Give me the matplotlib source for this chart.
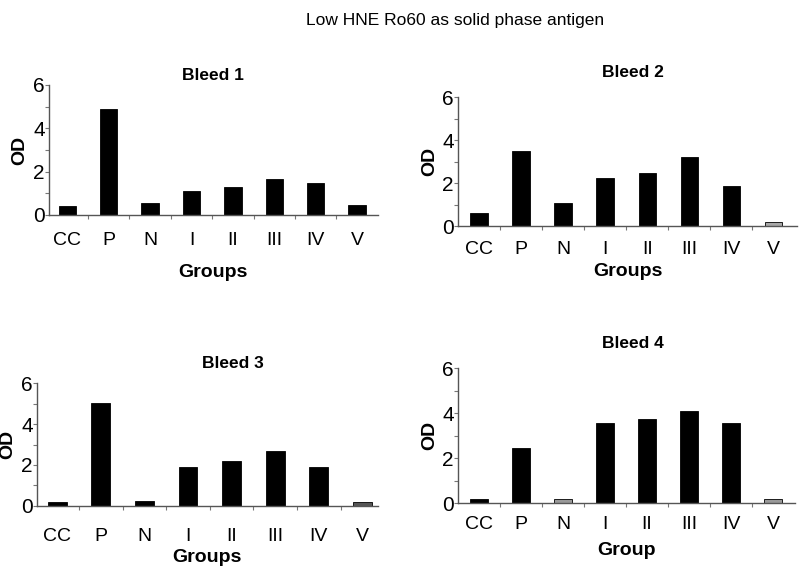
import matplotlib
matplotlib.use("Agg")
import matplotlib.pyplot as plt
import numpy as np

plt.rcParams['font.family'] = ['Liberation Sans', 'DejaVu Sans']

groups = ["CC", "P", "N", "I", "II", "III", "IV", "V"]
titles = ["Bleed 1", "Bleed 2", "Bleed 3", "Bleed 4"]
xlabels = ["Groups", "Groups", "Groups", "Group"]
bleed1 = [0.43, 4.9, 0.55, 1.09, 1.28, 1.68, 1.48, 0.45]
bleed2 = [0.62, 3.48, 1.08, 2.22, 2.49, 3.2, 1.86, 0.18]
bleed3 = [0.2, 5.03, 0.25, 1.9, 2.21, 2.66, 1.9, 0.2]
bleed4 = [0.16, 2.47, 0.16, 3.56, 3.75, 4.09, 3.56, 0.16]
colors1 = ["black"] * 8
colors2 = ["black"] * 7 + ["#a8a8a8"]
colors3 = ["black"] * 7 + ["#555555"]
colors4 = ["black", "black", "#999999", "black", "black", "black", "black", "#999999"]

fig = plt.figure(figsize=(8, 5.71), dpi=100)
fig.text(0.569, 0.978, "Low HNE Ro60 as solid phase antigen", ha="center", va="top", fontsize=12.5)

panels = [
    (bleed1, colors1, [0.061, 0.6235, 0.411, 0.2277], (-0.45, 7.5), 0.42, (213, 75), 12, 11),
    (bleed2, colors2, [0.5725, 0.604, 0.424, 0.226], (-0.5, 7.57), 0.41, (633, 72), 11, 3),
    (bleed3, colors3, [0.046, 0.114, 0.426, 0.215], (-0.47, 7.35), 0.43, (233, 363), 16, 3),
    (bleed4, colors4, [0.5725, 0.119, 0.421, 0.236], (-0.5, 7.52), 0.41, (633, 343), 9, 7),
]

for i, (vals, cols, rect, xl, bw, tpos, xpad, lpad) in enumerate(panels):
    ax = fig.add_axes(rect)
    x = np.arange(len(groups))
    ax.bar(x, vals, width=bw, color=cols, edgecolor="black", linewidth=0.6)
    ax.set_xlim(*xl)
    ax.set_ylim(0, 6)
    for s in ["top", "right"]:
        ax.spines[s].set_visible(False)
    for s in ["left", "bottom"]:
        ax.spines[s].set_color("#555555")
        ax.spines[s].set_linewidth(1.0)
    ax.set_yticks([0, 2, 4, 6])
    ax.set_yticklabels(["0", "2", "4", "6"], fontsize=15)
    ax.set_yticks([1, 3, 5], minor=True)
    ax.tick_params(axis="y", which="both", length=3, width=0.8, color="#777777", pad=0)
    ax.set_xticks(x)
    ax.set_xticklabels(groups, fontsize=14)
    ax.set_xticks(x[:-1] + 0.5, minor=True)
    ax.tick_params(axis="x", which="major", length=0, pad=xpad)
    ax.tick_params(axis="x", which="minor", length=3, width=0.8, color="#777777")
    ax.set_ylabel("OD", fontsize=14, fontweight="bold", labelpad=3)
    ax.set_xlabel(xlabels[i], fontsize=14, fontweight="bold", labelpad=lpad)
    fig.text(tpos[0] / 800, 1 - tpos[1] / 571, titles[i], ha="center", va="center",
             fontsize=12.5, fontweight="bold")

fig.savefig("out.png", dpi=100)
